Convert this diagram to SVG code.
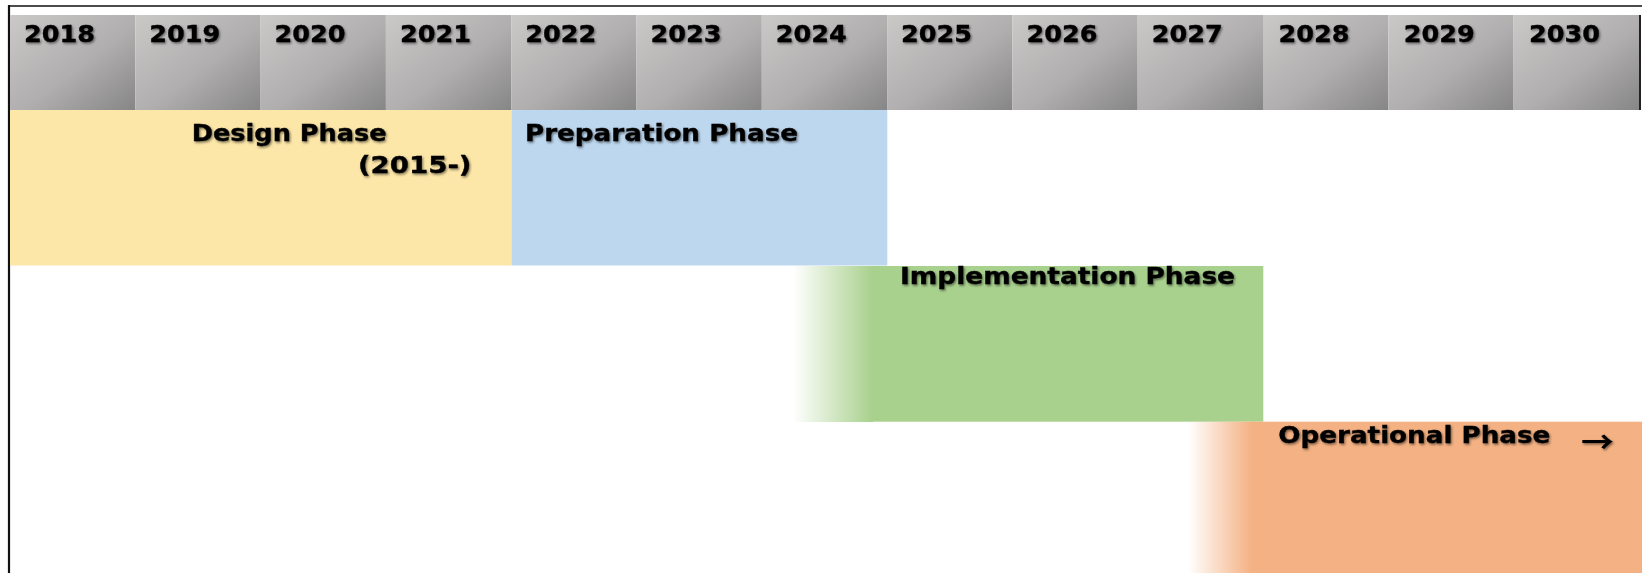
<svg xmlns="http://www.w3.org/2000/svg" width="1642" height="573" viewBox="0 0 1642 573">
<defs>
<linearGradient id="cellG" x1="0" y1="0" x2="1" y2="1">
<stop offset="0" stop-color="#cbc9c8"/>
<stop offset="0.55" stop-color="#b0aeae"/>
<stop offset="1" stop-color="#878686"/>
</linearGradient>
<linearGradient id="greenFade" gradientUnits="userSpaceOnUse" x1="793" y1="0" x2="872" y2="0">
<stop offset="0" stop-color="#A9D18E" stop-opacity="0"/>
<stop offset="1" stop-color="#A9D18E" stop-opacity="1"/>
</linearGradient>
<linearGradient id="orangeFade" gradientUnits="userSpaceOnUse" x1="1188" y1="0" x2="1252" y2="0">
<stop offset="0" stop-color="#F4B183" stop-opacity="0"/>
<stop offset="1" stop-color="#F4B183" stop-opacity="1"/>
</linearGradient>
<filter id="sh" x="-10%" y="-30%" width="120%" height="160%">
<feDropShadow dx="1.2" dy="1.5" stdDeviation="1.1" flood-color="#000" flood-opacity="0.5"/>
</filter>
</defs>
<style>
.cell{fill:url(#cellG)}
.t{font-family:"DejaVu Sans",Verdana,sans-serif;font-weight:bold;font-size:23px;fill:#000;stroke:#000;stroke-width:0.35;filter:url(#sh)}
.arr{font-family:"Noto Sans CJK SC","DejaVu Sans",sans-serif;font-weight:bold;font-size:30px;fill:#000;filter:url(#sh)}
</style>
<rect x="0" y="0" width="1642" height="573" fill="#ffffff"/>
<g id="frame">
<line x1="9" y1="6" x2="1642" y2="6" stroke="#111" stroke-width="1.6"/>
<line x1="9" y1="5" x2="9" y2="573" stroke="#111" stroke-width="2.2"/>
<line x1="1640" y1="15" x2="1640" y2="110" stroke="#222" stroke-width="2"/>
</g>
<g id="header">
<rect class="cell" x="10" y="15" width="125.3" height="95"/>
<rect class="cell" x="135.3" y="15" width="125.3" height="95"/>
<rect class="cell" x="260.6" y="15" width="125.3" height="95"/>
<rect class="cell" x="385.9" y="15" width="125.3" height="95"/>
<rect class="cell" x="511.2" y="15" width="125.3" height="95"/>
<rect class="cell" x="636.5" y="15" width="125.3" height="95"/>
<rect class="cell" x="761.8" y="15" width="125.3" height="95"/>
<rect class="cell" x="887.1" y="15" width="125.3" height="95"/>
<rect class="cell" x="1012.4" y="15" width="125.3" height="95"/>
<rect class="cell" x="1137.7" y="15" width="125.3" height="95"/>
<rect class="cell" x="1263" y="15" width="125.3" height="95"/>
<rect class="cell" x="1388.3" y="15" width="125.3" height="95"/>
<rect class="cell" x="1513.6" y="15" width="125.4" height="95"/>
<text class="t" x="24" y="41.5" textLength="71" lengthAdjust="spacingAndGlyphs">2018</text>
<text class="t" x="149.3" y="41.5" textLength="71" lengthAdjust="spacingAndGlyphs">2019</text>
<text class="t" x="274.6" y="41.5" textLength="71" lengthAdjust="spacingAndGlyphs">2020</text>
<text class="t" x="399.9" y="41.5" textLength="71" lengthAdjust="spacingAndGlyphs">2021</text>
<text class="t" x="525.2" y="41.5" textLength="71" lengthAdjust="spacingAndGlyphs">2022</text>
<text class="t" x="650.5" y="41.5" textLength="71" lengthAdjust="spacingAndGlyphs">2023</text>
<text class="t" x="775.8" y="41.5" textLength="71" lengthAdjust="spacingAndGlyphs">2024</text>
<text class="t" x="901.1" y="41.5" textLength="71" lengthAdjust="spacingAndGlyphs">2025</text>
<text class="t" x="1026.4" y="41.5" textLength="71" lengthAdjust="spacingAndGlyphs">2026</text>
<text class="t" x="1151.7" y="41.5" textLength="71" lengthAdjust="spacingAndGlyphs">2027</text>
<text class="t" x="1278.5" y="41.5" textLength="71" lengthAdjust="spacingAndGlyphs">2028</text>
<text class="t" x="1403.8" y="41.5" textLength="71" lengthAdjust="spacingAndGlyphs">2029</text>
<text class="t" x="1529.1" y="41.5" textLength="71" lengthAdjust="spacingAndGlyphs">2030</text>
</g>
<g id="design">
<rect x="10" y="110" width="501.5" height="155.5" fill="#FCE6A8"/>
<text class="t" x="191.7" y="140.5" textLength="195" lengthAdjust="spacingAndGlyphs">Design Phase</text>
<text class="t" x="358" y="172.5" textLength="113.5" lengthAdjust="spacingAndGlyphs">(2015-)</text>
</g>
<g id="preparation">
<rect x="511.5" y="110" width="375.8" height="155.5" fill="#BDD7EE"/>
<text class="t" x="525" y="140.5" textLength="273" lengthAdjust="spacingAndGlyphs">Preparation Phase</text>
</g>
<g id="implementation">
<rect x="793" y="266" width="80" height="156" fill="url(#greenFade)"/>
<rect x="872" y="266" width="391.3" height="155.7" fill="#A9D18E"/>
<text class="t" x="900" y="284" textLength="335" lengthAdjust="spacingAndGlyphs">Implementation Phase</text>
</g>
<g id="operational">
<rect x="1188" y="421.7" width="65" height="151.3" fill="url(#orangeFade)"/>
<rect x="1252" y="421.7" width="390" height="151.3" fill="#F4B183"/>
<text class="t" x="1278.3" y="442.5" textLength="272" lengthAdjust="spacingAndGlyphs">Operational Phase</text>
<text class="arr" x="1581" y="453" textLength="33" lengthAdjust="spacingAndGlyphs">→</text>
</g>
</svg>
